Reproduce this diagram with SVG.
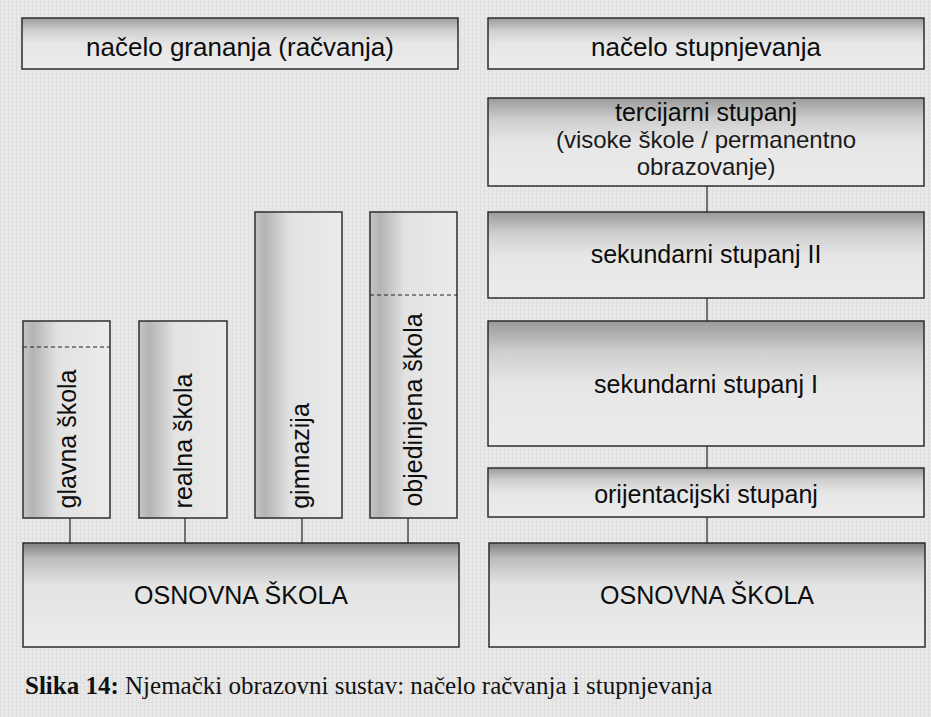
<svg xmlns="http://www.w3.org/2000/svg" width="931" height="717" viewBox="0 0 931 717">
<defs>
<linearGradient id="gTop" x1="0" y1="0" x2="0" y2="1">
<stop offset="0" stop-color="#9a9a9a"/>
<stop offset="0.25" stop-color="#cfcfcf"/>
<stop offset="0.5" stop-color="#e6e6e6"/>
<stop offset="1" stop-color="#ececec"/>
</linearGradient>
<linearGradient id="gBase" x1="0" y1="0" x2="0" y2="1">
<stop offset="0" stop-color="#808080"/>
<stop offset="0.15" stop-color="#bdbdbd"/>
<stop offset="0.4" stop-color="#e3e3e3"/>
<stop offset="1" stop-color="#ececec"/>
</linearGradient>
<linearGradient id="gLeft" x1="0" y1="0" x2="1" y2="0">
<stop offset="0" stop-color="#c4c4c4"/>
<stop offset="0.12" stop-color="#b4b4b4"/>
<stop offset="0.4" stop-color="#e2e2e2"/>
<stop offset="1" stop-color="#ebebeb"/>
</linearGradient>
<pattern id="noise" width="4" height="4" patternUnits="userSpaceOnUse">
<rect width="4" height="4" fill="#e9e9e9"/>
<rect x="0" y="0" width="1" height="4" fill="#dedede"/>
<rect x="0" y="2" width="4" height="1" fill="#e1e1e1"/>
</pattern>
</defs>
<style>
.box{stroke:#2e2e2e;stroke-width:1.5}
.lbl{font-family:"Liberation Sans",Arial,sans-serif;font-size:25px;fill:#0d0d0d;text-anchor:middle}
.hd{font-size:26px}
.lt{fill:#1a1a1a;font-size:24px}
.con{stroke:#333;stroke-width:1.3;fill:none}
.dash{stroke:#222;stroke-width:1;stroke-dasharray:4 3;fill:none}
.cap{font-family:"Liberation Serif","Times New Roman",serif;font-size:25px;fill:#111}
</style>
<rect width="931" height="717" fill="url(#noise)"/>

<g id="connectors">
<line class="con" x1="70" y1="518" x2="70" y2="543"/>
<line class="con" x1="185" y1="518" x2="185" y2="543"/>
<line class="con" x1="302" y1="518" x2="302" y2="543"/>
<line class="con" x1="408" y1="518" x2="408" y2="543"/>
<line class="con" x1="707" y1="186" x2="707" y2="212"/>
<line class="con" x1="707" y1="298" x2="707" y2="321"/>
<line class="con" x1="707" y1="446" x2="707" y2="468"/>
<line class="con" x1="707" y1="517" x2="707" y2="543"/>
</g>

<g id="header-left">
<rect class="box" x="22" y="18" width="436" height="51" fill="url(#gTop)"/>
<text class="lbl hd" x="240" y="56">načelo grananja (račvanja)</text>
</g>
<g id="header-right">
<rect class="box" x="488" y="18" width="436" height="51" fill="url(#gTop)"/>
<text class="lbl hd" x="706" y="56">načelo stupnjevanja</text>
</g>

<g id="tercijarni">
<rect class="box" x="488" y="98" width="436" height="88" fill="url(#gTop)"/>
<text class="lbl" x="706" y="121">tercijarni stupanj</text>
<text class="lbl lt" x="706" y="148">(visoke škole / permanentno</text>
<text class="lbl lt" x="706" y="175">obrazovanje)</text>
</g>
<g id="sekundarni2">
<rect class="box" x="488" y="212" width="436" height="86" fill="url(#gTop)"/>
<text class="lbl" x="706" y="263">sekundarni stupanj II</text>
</g>
<g id="sekundarni1">
<rect class="box" x="488" y="321" width="436" height="125" fill="url(#gTop)"/>
<text class="lbl" x="706" y="393">sekundarni stupanj I</text>
</g>
<g id="orijentacijski">
<rect class="box" x="488" y="468" width="436" height="49" fill="url(#gTop)"/>
<text class="lbl" x="706" y="503">orijentacijski stupanj</text>
</g>

<g id="glavna">
<rect class="box" x="23" y="321" width="87" height="197" fill="url(#gLeft)"/>
<line class="dash" x1="23" y1="347" x2="110" y2="347"/>
<text class="lbl" transform="translate(76,439) rotate(-90)">glavna škola</text>
</g>
<g id="realna">
<rect class="box" x="139" y="321" width="88" height="197" fill="url(#gLeft)"/>
<text class="lbl" transform="translate(192,441) rotate(-90)">realna škola</text>
</g>
<g id="gimnazija">
<rect class="box" x="255" y="212" width="87" height="306" fill="url(#gLeft)"/>
<text class="lbl" transform="translate(309,456) rotate(-90)">gimnazija</text>
</g>
<g id="objedinjena">
<rect class="box" x="370" y="212" width="87" height="306" fill="url(#gLeft)"/>
<line class="dash" x1="370" y1="295" x2="457" y2="295"/>
<text class="lbl" transform="translate(422,410) rotate(-90)">objedinjena škola</text>
</g>

<g id="osnovna-left">
<rect class="box" x="23" y="543" width="436" height="104" fill="url(#gBase)"/>
<text class="lbl" x="241" y="604">OSNOVNA ŠKOLA</text>
</g>
<g id="osnovna-right">
<rect class="box" x="489" y="543" width="436" height="104" fill="url(#gBase)"/>
<text class="lbl" x="707" y="604">OSNOVNA ŠKOLA</text>
</g>

<text class="cap" x="25" y="694"><tspan font-weight="bold">Slika 14:</tspan> Njemački obrazovni sustav: načelo račvanja i stupnjevanja</text>
</svg>
